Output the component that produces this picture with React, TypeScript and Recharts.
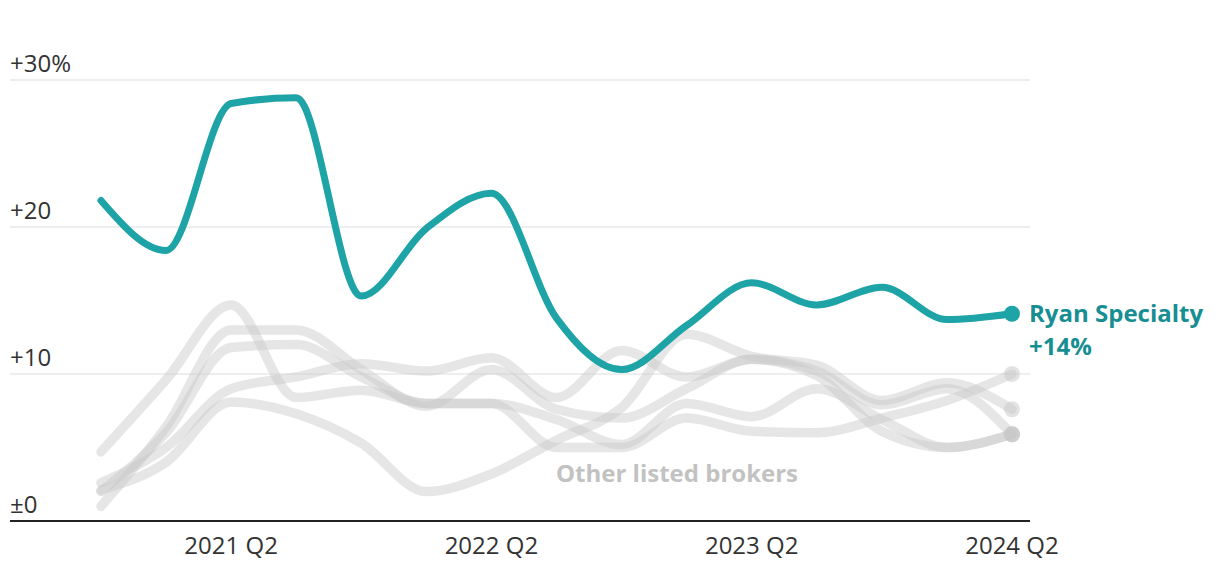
import React from "react";
import { LineChart, Line, XAxis, YAxis, CartesianGrid } from "recharts";

const quarters = [
  "2020 Q4", "2021 Q1", "2021 Q2", "2021 Q3", "2021 Q4",
  "2022 Q1", "2022 Q2", "2022 Q3", "2022 Q4",
  "2023 Q1", "2023 Q2", "2023 Q3", "2023 Q4",
  "2024 Q1", "2024 Q2",
];
const ryanSpecialty = [21.8, 18.4, 28.4, 28.8, 15.3, 19.9, 22.3, 13.8, 10.3, 13.3, 16.2, 14.7, 15.9, 13.7, 14.1];
const brokerA = [4.7, 9.6, 14.7, 8.4, 8.9, 8.0, 8.0, 6.9, 5.2, 8.0, 7.1, 9.0, 6.9, 5.0, 5.9];
const brokerB = [1.0, 6.4, 13.0, 13.0, 10.3, 7.8, 10.3, 7.6, 7.0, 9.0, 11.0, 9.9, 6.1, 5.0, 5.9];
const brokerC = [2.0, 6.0, 11.8, 12.0, 9.8, 8.0, 8.0, 5.0, 5.0, 7.0, 6.1, 6.0, 7.0, 8.2, 10.0];
const brokerD = [2.6, 5.0, 9.0, 9.8, 10.7, 10.2, 11.1, 8.4, 11.6, 9.8, 11.0, 10.2, 7.9, 9.0, 5.9];
const brokerE = [2.1, 4.0, 8.1, 7.3, 5.3, 2.0, 3.2, 5.5, 7.7, 12.7, 11.2, 10.6, 8.2, 9.4, 7.6];
const yTicks = [0, 10, 20, 30];
const yTickLabels = ["±0", "+10", "+20", "+30%"];
const xTicks = [2, 6, 10, 14];
const ryanLabel = "Ryan Specialty";
const ryanValueLabel = "+14%";
const othersLabel = "Other listed brokers";

const brokers = [brokerA, brokerB, brokerC, brokerD, brokerE];
const data = quarters.map((q, i) => ({
  i,
  q,
  ryan: ryanSpecialty[i],
  b0: brokerA[i],
  b1: brokerB[i],
  b2: brokerC[i],
  b3: brokerD[i],
  b4: brokerE[i],
}));

const FONT = "'Open Sans', sans-serif";
const TEAL = "#1ea4a6";
const TEAL_TEXT = "#178e92";
const LAST = quarters.length - 1;

const YTick = (props: any) => {
  const { y, payload } = props;
  const idx = yTicks.indexOf(payload.value);
  return (
    <text x={2} y={y - 8} textAnchor="start" fill="#333" fontSize={24} fontFamily={FONT}>
      {yTickLabels[idx]}
    </text>
  );
};

const XTick = (props: any) => {
  const { x, y, payload } = props;
  return (
    <text x={x} y={y + 25} textAnchor="middle" fill="#333" fontSize={24} fontFamily={FONT}>
      {quarters[payload.value]}
    </text>
  );
};

const grayDot = (props: any) => {
  const { cx, cy, index } = props;
  if (index !== LAST) return <g key={`g-${index}`} />;
  return <circle key={`gd-${index}`} cx={cx} cy={cy} r={8} fill="rgb(200,200,200)" fillOpacity={0.5} />;
};

const ryanDot = (props: any) => {
  const { cx, cy, index } = props;
  if (index !== LAST) return <g key={`r-${index}`} />;
  return <circle key={`rd-${index}`} cx={cx} cy={cy} r={8} fill={TEAL} />;
};

export default function App() {
  return (
    <div style={{ position: "relative", width: 1204, height: 560 }}>
      <LineChart
        width={1204}
        height={560}
        data={data}
        margin={{ top: 72, right: 182, left: 1, bottom: 7 }}
      >
        <CartesianGrid horizontal vertical={false} stroke="#e9e9e9" strokeWidth={1.5} />
        <XAxis
          type="number"
          dataKey="i"
          domain={[-1.398, 14.277]}
          ticks={xTicks}
          tick={<XTick />}
          tickLine={false}
          axisLine={{ stroke: "#222", strokeWidth: 2 }}
          height={40}
          allowDataOverflow
        />
        <YAxis
          type="number"
          domain={[0, 30]}
          ticks={yTicks}
          tick={<YTick />}
          tickLine={false}
          axisLine={false}
          width={1}
        />
        {brokers.map((_, k) => (
          <Line
            key={k}
            type="monotone"
            dataKey={`b${k}`}
            stroke="rgb(200,200,200)"
            strokeOpacity={0.45}
            strokeWidth={9.5}
            strokeLinecap="round"
            strokeLinejoin="round"
            dot={grayDot}
            activeDot={false}
            isAnimationActive={false}
          />
        ))}
        <Line
          type="monotone"
          dataKey="ryan"
          stroke={TEAL}
          strokeWidth={7}
          strokeLinecap="round"
          strokeLinejoin="round"
          dot={ryanDot}
          activeDot={false}
          isAnimationActive={false}
        />
      </LineChart>
      <div
        style={{
          position: "absolute",
          left: 1021,
          top: 288,
          fontFamily: FONT,
          fontWeight: 700,
          fontSize: 24,
          lineHeight: "33px",
          color: TEAL_TEXT,
          whiteSpace: "nowrap",
        }}
      >
        <div>{ryanLabel}</div>
        <div>{ryanValueLabel}</div>
      </div>
      <div
        style={{
          position: "absolute",
          left: 548,
          top: 450,
          fontFamily: FONT,
          fontWeight: 700,
          fontSize: 24,
          color: "#c2c2c2",
          whiteSpace: "nowrap",
          lineHeight: "30px",
        }}
      >
        {othersLabel}
      </div>
    </div>
  );
}
